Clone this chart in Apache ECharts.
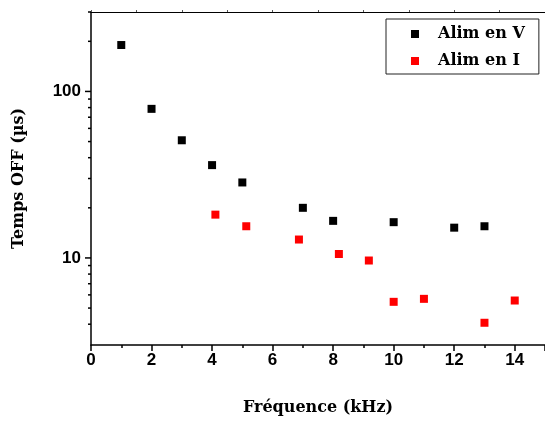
<!DOCTYPE html>
<html>
<head>
<meta charset="utf-8">
<script src="https://cdn.jsdelivr.net/npm/echarts@6/dist/echarts.min.js"></script>
<style>
html,body{margin:0;padding:0;background:#fff;}
#chart{width:545px;height:421px;}
</style>
</head>
<body>
<div id="chart"></div>
<script>
// Data
const seriesVName = 'Alim en V';
const seriesIName = 'Alim en I';
const freqV = [1, 2, 3, 4, 5, 7, 8, 10, 12, 13];
const tempsV = [190, 78.6, 50.9, 36.1, 28.4, 20.0, 16.7, 16.4, 15.2, 15.5];
const freqI = [4.11, 5.13, 6.87, 8.19, 9.18, 10, 11, 13, 14];
const tempsI = [18.2, 15.5, 12.9, 10.56, 9.65, 5.45, 5.68, 4.08, 5.55];
const xTickLabels = [0, 2, 4, 6, 8, 10, 12, 14];
const yTickLabels = [10, 100];
const yMinorTicks = [4, 5, 6, 7, 8, 9, 20, 30, 40, 50, 60, 70, 80, 90, 200, 300];
const xTitle = 'Fréquence (kHz)';
const yTitle = 'Temps OFF (µs)';

const serif = '"DejaVu Serif", "Liberation Serif", serif';
const sans = '"Liberation Sans", Arial, sans-serif';

const chart = echarts.init(document.getElementById('chart'), null, {renderer: 'canvas'});

const yTickData = yTickLabels.map(v => [v, 1]).concat(yMinorTicks.map(v => [v, 0]));

const option = {
  animation: false,
  backgroundColor: '#fff',
  grid: {left: 91, top: 12, width: 457.5, height: 339, containLabel: false},
  legend: {
    orient: 'vertical',
    left: 386,
    top: 19,
    padding: [6, 14, 4, 25],
    itemGap: 9,
    itemWidth: 8,
    itemHeight: 8,
    borderColor: '#222',
    borderWidth: 1,
    backgroundColor: '#fff',
    textStyle: {fontFamily: serif, fontWeight: 'bold', fontSize: 16, color: '#000', lineHeight: 18, padding: [0, 0, 0, 14]},
    data: [seriesVName, seriesIName]
  },
  xAxis: [{
    type: 'value',
    min: 0, max: 15, interval: 2,
    position: 'bottom',
    name: xTitle,
    nameLocation: 'middle',
    nameGap: 55,
    nameTextStyle: {fontFamily: serif, fontWeight: 'bold', fontSize: 16, color: '#000'},
    axisLine: {show: true, onZero: false, lineStyle: {color: '#000', width: 1.5}},
    axisTick: {show: true, length: 6, lineStyle: {color: '#000', width: 1.5}},
    minorTick: {show: true, splitNumber: 2, length: 3, lineStyle: {color: '#000', width: 1.5}},
    splitLine: {show: false},
    axisLabel: {
      margin: 7, fontFamily: sans, fontWeight: 'bold', fontSize: 17, color: '#000',
      formatter: v => xTickLabels.indexOf(v) >= 0 ? String(v) : '',
      showMaxLabel: false
    }
  }, {
    type: 'value',
    min: 0, max: 15, interval: 1.5,
    position: 'top',
    axisLine: {show: true, onZero: false, lineStyle: {color: '#000', width: 1.2}},
    axisTick: {show: true, length: 2, lineStyle: {color: '#555', width: 1}},
    axisLabel: {show: false},
    splitLine: {show: false}
  }],
  yAxis: {
    type: 'log',
    logBase: 10,
    min: 3, max: 300,
    name: yTitle,
    nameLocation: 'middle',
    nameGap: 64,
    nameRotate: 90,
    nameTextStyle: {fontFamily: serif, fontWeight: 'bold', fontSize: 16, color: '#000'},
    axisLine: {show: true, onZero: false, lineStyle: {color: '#000', width: 1.5}},
    axisTick: {show: false},
    splitLine: {show: false},
    axisLabel: {
      margin: 10, fontFamily: sans, fontWeight: 'bold', fontSize: 17, color: '#000',
      showMinLabel: false, showMaxLabel: false,
      formatter: v => yTickLabels.some(t => Math.abs(t - v) < 1e-6) ? String(Math.round(v)) : ''
    }
  },
  series: [{
    name: seriesVName,
    type: 'scatter',
    symbol: 'rect',
    symbolSize: 8,
    itemStyle: {color: '#000', opacity: 1},
    data: freqV.map((x, i) => [x, tempsV[i]])
  }, {
    name: seriesIName,
    type: 'scatter',
    symbol: 'rect',
    symbolSize: 8,
    itemStyle: {color: '#ff0000', opacity: 1},
    data: freqI.map((x, i) => [x, tempsI[i]])
  }, {
    name: 'yticks',
    type: 'custom',
    silent: true,
    clip: false,
    legendHoverLink: false,
    data: yTickData,
    encode: {x: -1, y: 0},
    renderItem: function (params, api) {
      const v = api.value(0);
      const major = api.value(1) === 1;
      const p = api.coord([0, v]);
      const len = major ? 6 : 3;
      return {
        type: 'line',
        shape: {x1: p[0] - len, y1: p[1], x2: p[0], y2: p[1]},
        style: {stroke: '#000', lineWidth: 1.5}
      };
    }
  }]
};
chart.setOption(option);
</script>
</body>
</html>
